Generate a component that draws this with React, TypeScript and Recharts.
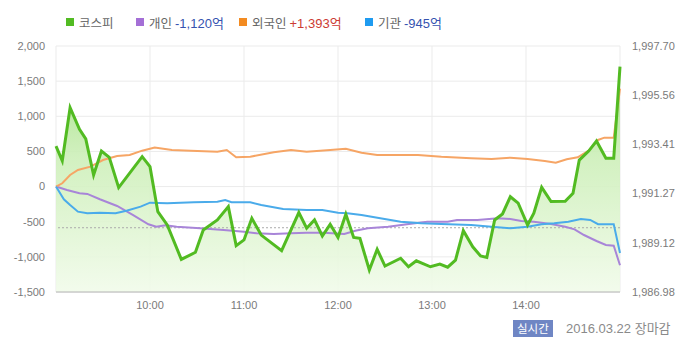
import React from 'react';
import { ComposedChart, Area, Line, XAxis, YAxis, CartesianGrid, ReferenceLine } from 'recharts';

// minutes after 09:00
const kospiMinutes = [0, 4, 9, 15, 19, 24, 29, 34, 40, 55, 60, 65, 71, 80, 89, 94, 103, 110, 115, 120, 125, 131, 144, 155, 160, 165, 170, 175, 180, 185, 190, 194, 200, 205, 210, 220, 225, 230, 239, 245, 250, 255, 260, 266, 271, 275, 280, 285, 290, 295, 301, 305, 310, 316, 325, 330, 334, 340, 345, 351, 356, 360];
const kospiValues = [1993.34, 1992.70, 1995.01, 1994.07, 1993.65, 1992.08, 1993.12, 1992.85, 1991.53, 1992.88, 1992.44, 1990.48, 1989.90, 1988.40, 1988.71, 1989.68, 1990.12, 1990.70, 1989.00, 1989.25, 1990.19, 1989.46, 1988.78, 1990.44, 1989.76, 1990.12, 1989.42, 1989.93, 1989.36, 1990.37, 1989.36, 1989.32, 1987.94, 1988.84, 1988.11, 1988.45, 1988.08, 1988.34, 1988.08, 1988.20, 1988.06, 1988.37, 1989.65, 1988.95, 1988.55, 1988.49, 1990.12, 1990.38, 1991.13, 1990.85, 1989.90, 1990.41, 1991.54, 1990.92, 1990.93, 1991.28, 1992.73, 1993.12, 1993.56, 1992.81, 1992.81, 1996.80];

const foreignMinutes = [0, 4, 9, 14, 22, 30, 39, 47, 55, 63, 74, 86, 103, 109, 115, 124, 139, 150, 160, 175, 185, 195, 205, 218, 231, 246, 265, 278, 290, 301, 312, 319, 326, 333, 340, 346, 350, 356, 360];
const foreignValues = [0, 47, 165, 236, 283, 378, 435, 450, 511, 554, 521, 511, 497, 521, 417, 425, 488, 521, 497, 521, 539, 482, 450, 450, 450, 425, 403, 393, 411, 393, 364, 340, 388, 417, 511, 663, 696, 696, 1393];

const personalMinutes = [0, 7, 15, 20, 28, 39, 49, 59, 64, 70, 77, 92, 107, 120, 128, 139, 150, 160, 171, 184, 191, 199, 212, 224, 237, 250, 256, 269, 282, 290, 297, 305, 316, 325, 331, 337, 345, 351, 356, 360];
const personalValues = [0, -48, -95, -105, -181, -276, -404, -536, -571, -551, -571, -593, -618, -642, -665, -675, -665, -656, -656, -675, -628, -593, -571, -536, -499, -499, -475, -475, -451, -461, -490, -499, -532, -571, -608, -689, -774, -831, -841, -1120];

const institutionMinutes = [0, 5, 9, 14, 20, 28, 38, 45, 54, 60, 71, 88, 103, 108, 112, 124, 131, 145, 160, 170, 180, 186, 195, 207, 220, 233, 246, 265, 278, 290, 301, 310, 318, 327, 335, 341, 346, 356, 360];
const institutionValues = [0, -181, -262, -357, -380, -371, -380, -343, -286, -229, -238, -223, -215, -191, -223, -223, -262, -319, -333, -333, -371, -380, -404, -451, -499, -522, -532, -546, -571, -593, -571, -536, -522, -499, -461, -475, -536, -536, -945];

const prevClose = 1989.78;
const leftTicks = [-1500, -1000, -500, 0, 500, 1000, 1500, 2000];
const rightTicks = [1986.98, 1989.12, 1991.27, 1993.41, 1995.56, 1997.70];
const hourTicks = [60, 120, 180, 240, 300];
const hourLabels = ['10:00', '11:00', '12:00', '13:00', '14:00'];

const legendItems = [
  { name: '코스피', value: '', color: '#52bb22', valueColor: '' },
  { name: '개인', value: '-1,120억', color: '#a46fd6', valueColor: '#3553b0' },
  { name: '외국인', value: '+1,393억', color: '#f38b21', valueColor: '#cc3b33' },
  { name: '기관', value: '-945억', color: '#1f9bf0', valueColor: '#3553b0' },
];
const legendLeft = [66, 136, 239, 365];

const toRows = (mins: number[], vals: number[]) => mins.map((t, i) => ({ t, v: vals[i] }));

const fmt = (v: number) => v.toLocaleString('en-US');
const fmt2 = (v: number) => v.toLocaleString('en-US', { minimumFractionDigits: 2, maximumFractionDigits: 2 });

const kospi = toRows(kospiMinutes, kospiValues);
const foreign = toRows(foreignMinutes, foreignValues);
const personal = toRows(personalMinutes, personalValues);
const institution = toRows(institutionMinutes, institutionValues);

const tickStyle = { fill: '#7a7a7a', fontSize: 11, fontFamily: '"Liberation Sans", Arial, sans-serif' };

export default function App() {
  return (
    <div style={{ position: 'absolute', left: 0, top: 0, width: 700, height: 355, background: '#fff', fontFamily: '"Liberation Sans", "Noto Sans CJK KR", sans-serif' }}>
      {legendItems.map((it, i) => (
        <div key={it.name} style={{ position: 'absolute', left: legendLeft[i], top: 14, height: 16, display: 'flex', alignItems: 'center', fontSize: 13, whiteSpace: 'nowrap' }}>
          <span style={{ width: 8, height: 8, background: it.color, marginRight: 5 }} />
          <span style={{ color: '#666', fontFamily: '"Noto Sans CJK KR", sans-serif', fontSize: 12.5 }}>{it.name}</span>
          {it.value && <span style={{ color: it.valueColor, marginLeft: 3 }}>{it.value}</span>}
        </div>
      ))}
      <ComposedChart width={700} height={355} margin={{ top: 46, right: 10, bottom: 0, left: 6 }}>
        <defs>
          <linearGradient id="kospiFill" x1="0" y1="0" x2="0" y2="1">
            <stop offset="0%" stopColor="#9ee07c" />
            <stop offset="40%" stopColor="#cdefb9" />
            <stop offset="100%" stopColor="#f1fbea" />
          </linearGradient>
        </defs>
        <CartesianGrid yAxisId="left" stroke="#ebebeb" verticalPoints={undefined} />
        <XAxis
          type="number"
          dataKey="t"
          domain={[0, 360]}
          ticks={hourTicks}
          tickFormatter={(v: number) => hourLabels[hourTicks.indexOf(v)]}
          tick={tickStyle}
          tickLine={false}
          tickMargin={3}
          axisLine={{ stroke: '#b5b5b5' }}
          height={63}
          allowDuplicatedCategory={false}
        />
        <YAxis
          yAxisId="left"
          domain={[-1500, 2000]}
          ticks={leftTicks}
          tickFormatter={fmt}
          tick={tickStyle}
          tickLine={false}
          axisLine={false}
          tickMargin={5}
          width={50}
          interval={0}
        />
        <YAxis
          yAxisId="right"
          orientation="right"
          domain={[1986.98, 1997.7]}
          ticks={rightTicks}
          tickFormatter={fmt2}
          tick={tickStyle}
          tickLine={false}
          axisLine={false}
          tickMargin={6}
          width={70}
          interval={0}
        />
        <Area yAxisId="right" data={kospi} dataKey="v" type="linear" stroke="none" fill="url(#kospiFill)" fillOpacity={0.9} isAnimationActive={false} />
        <ReferenceLine yAxisId="right" y={prevClose} stroke="#aaa" strokeDasharray="2 2" />
        <Line yAxisId="left" data={personal} dataKey="v" type="linear" stroke="#a885d8" strokeWidth={2} dot={false} isAnimationActive={false} />
        <Line yAxisId="left" data={foreign} dataKey="v" type="linear" stroke="#f6a565" strokeWidth={2} dot={false} isAnimationActive={false} />
        <Line yAxisId="left" data={institution} dataKey="v" type="linear" stroke="#4aabea" strokeWidth={2} dot={false} isAnimationActive={false} />
        <Line yAxisId="right" data={kospi} dataKey="v" type="linear" stroke="#52bb22" strokeWidth={3} dot={false} isAnimationActive={false} />
      </ComposedChart>
      <div style={{ position: 'absolute', left: 513, top: 320, height: 17, padding: '0 4px', background: '#6f86c4', color: '#fff', fontSize: 11.5, lineHeight: '17px', fontFamily: '"Noto Sans CJK KR", sans-serif' }}>실시간</div>
      <div style={{ position: 'absolute', left: 566, top: 319, lineHeight: '19px', fontSize: 13, color: '#8a8a8a', whiteSpace: 'nowrap' }}>2016.03.22 장마감</div>
    </div>
  );
}
